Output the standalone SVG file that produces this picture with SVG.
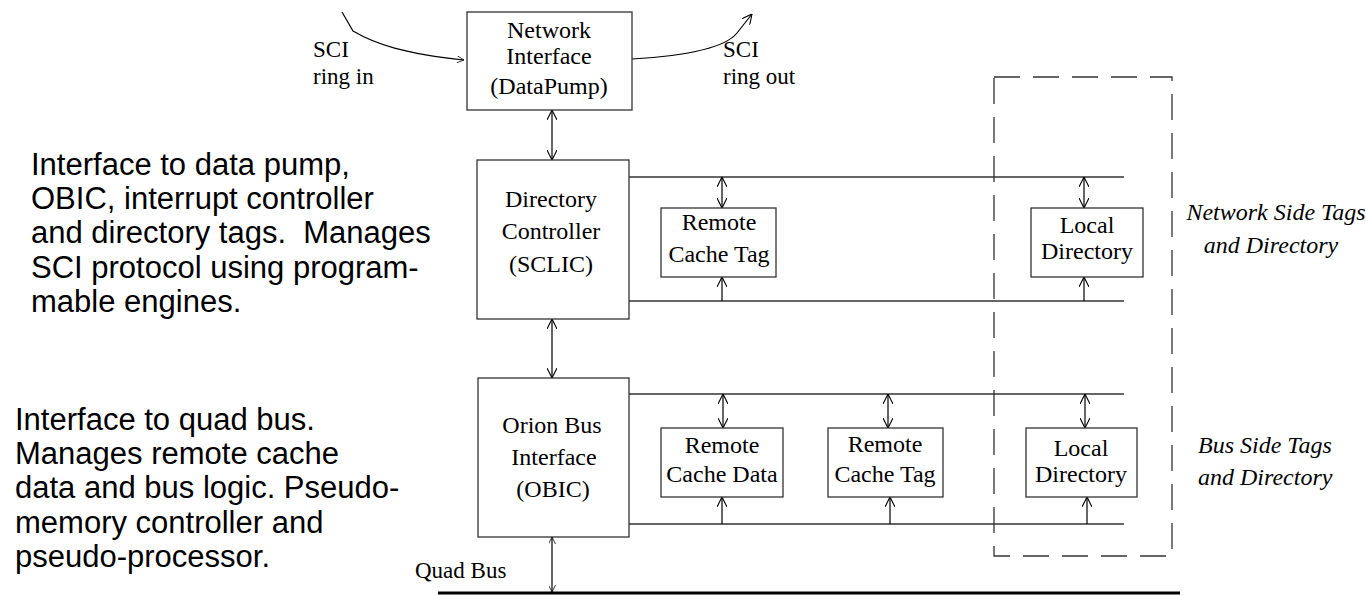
<svg xmlns="http://www.w3.org/2000/svg" width="1366" height="595" viewBox="0 0 1366 595">
<style>
.box{fill:#fff;stroke:#333;stroke-width:1.3}
.lbl{font-family:"Liberation Serif","Times New Roman",serif;font-size:24px;fill:#000;text-anchor:middle}
.lbl2{font-family:"Liberation Serif","Times New Roman",serif;font-size:23px;fill:#000}
.it{font-family:"Liberation Serif","Times New Roman",serif;font-size:24px;font-style:italic;fill:#000}
.note{font-family:"Liberation Sans",Arial,sans-serif;font-size:31px;fill:#000}
.bus{stroke:#333;stroke-width:1.3;fill:none}
.arr{stroke:#000;stroke-width:1.2;fill:none}
.dash{fill:none;stroke:#333;stroke-width:1.3;stroke-dasharray:26 13}
</style>
<defs>
<marker id="ah" viewBox="0 0 10 10" refX="10" refY="5" markerWidth="10" markerHeight="10" markerUnits="userSpaceOnUse" orient="auto-start-reverse">
<path d="M0,0 L10,5 L0,10" fill="none" stroke="#000" stroke-width="1.1"/>
</marker>
<marker id="ahs" viewBox="0 0 10 10" refX="10" refY="5" markerWidth="7" markerHeight="7" markerUnits="userSpaceOnUse" orient="auto-start-reverse">
<path d="M0,0 L10,5 L0,10" fill="none" stroke="#000" stroke-width="1.1"/>
</marker>
</defs>
<rect width="1366" height="595" fill="#fff"/>

<g id="notes">
<text class="note" x="31" y="175">Interface to data pump,</text>
<text class="note" x="31" y="209">OBIC, interrupt controller</text>
<text class="note" x="31" y="243" xml:space="preserve">and directory tags.  Manages</text>
<text class="note" x="31" y="278">SCI protocol using program-</text>
<text class="note" x="31" y="312">mable engines.</text>
<text class="note" x="15" y="430">Interface to quad bus.</text>
<text class="note" x="15" y="464">Manages remote cache</text>
<text class="note" x="15" y="498">data and bus logic. Pseudo-</text>
<text class="note" x="15" y="533">memory controller and</text>
<text class="note" x="15" y="567">pseudo-processor.</text>
</g>

<g id="region-label">
<rect class="dash" x="994" y="77" width="178" height="479"/>
<text class="it" x="1276" y="220" text-anchor="middle">Network Side Tags</text>
<text class="it" x="1271" y="253" text-anchor="middle">and Directory</text>
<text class="it" x="1198" y="453">Bus Side Tags</text>
<text class="it" x="1198" y="485">and Directory</text>
</g>

<g id="connectors">
<path class="arr" d="M342,12 L353,31 C375,44 405,54 464,60" marker-end="url(#ahs)"/>
<path class="arr" d="M632,59 C684,56 725,48 737,33 L752,14" marker-end="url(#ah)"/>
<line class="arr" x1="552" y1="110" x2="552" y2="160" marker-start="url(#ah)" marker-end="url(#ah)"/>
<line class="arr" x1="552" y1="319" x2="552" y2="378" marker-start="url(#ah)" marker-end="url(#ah)"/>
<line class="arr" x1="552" y1="537" x2="552" y2="592" marker-start="url(#ahs)" marker-end="url(#ahs)"/>
<line class="bus" x1="627" y1="177" x2="1124" y2="177"/>
<line class="bus" x1="627" y1="301" x2="1124" y2="301"/>
<line class="bus" x1="627" y1="394" x2="1124" y2="394"/>
<line class="bus" x1="627" y1="524" x2="1124" y2="524"/>
<line class="arr" x1="722" y1="177" x2="722" y2="208" marker-start="url(#ah)" marker-end="url(#ah)"/>
<line class="arr" x1="722" y1="301" x2="722" y2="277" marker-end="url(#ah)"/>
<line class="arr" x1="1084" y1="177" x2="1084" y2="208" marker-start="url(#ah)" marker-end="url(#ah)"/>
<line class="arr" x1="1084" y1="301" x2="1084" y2="277" marker-end="url(#ah)"/>
<line class="arr" x1="723" y1="394" x2="723" y2="428" marker-start="url(#ah)" marker-end="url(#ah)"/>
<line class="arr" x1="722" y1="524" x2="722" y2="497" marker-end="url(#ah)"/>
<line class="arr" x1="888" y1="394" x2="888" y2="428" marker-start="url(#ah)" marker-end="url(#ah)"/>
<line class="arr" x1="890" y1="524" x2="890" y2="497" marker-end="url(#ah)"/>
<line class="arr" x1="1085" y1="394" x2="1085" y2="428" marker-start="url(#ah)" marker-end="url(#ah)"/>
<line class="arr" x1="1087" y1="524" x2="1087" y2="497" marker-end="url(#ah)"/>
<line x1="438" y1="593" x2="1180" y2="593" stroke="#000" stroke-width="3"/>
</g>

<g id="sci-ring-in"><text class="lbl2" x="313" y="57">SCI</text><text class="lbl2" x="313" y="84">ring in</text></g>
<g id="sci-ring-out"><text class="lbl2" x="723" y="57">SCI</text><text class="lbl2" x="723" y="84">ring out</text></g>
<g id="quad-bus"><text class="lbl2" x="415" y="578">Quad Bus</text></g>

<g id="network-interface">
<rect class="box" x="467" y="12" width="165" height="98"/>
<text class="lbl" x="549" y="38">Network</text>
<text class="lbl" x="549" y="64">Interface</text>
<text class="lbl" x="549" y="94">(DataPump)</text>
</g>

<g id="directory-controller">
<rect class="box" x="477" y="160" width="152" height="159"/>
<text class="lbl" x="551" y="207">Directory</text>
<text class="lbl" x="551" y="239">Controller</text>
<text class="lbl" x="551" y="272">(SCLIC)</text>
</g>

<g id="net-remote-cache-tag">
<rect class="box" x="661" y="208" width="115" height="69"/>
<text class="lbl" x="719" y="230">Remote</text>
<text class="lbl" x="719" y="262">Cache Tag</text>
</g>

<g id="net-local-directory">
<rect class="box" x="1031" y="208" width="112" height="69"/>
<text class="lbl" x="1087" y="233">Local</text>
<text class="lbl" x="1087" y="259">Directory</text>
</g>

<g id="obic">
<rect class="box" x="478" y="378" width="151" height="159"/>
<text class="lbl" x="552" y="433">Orion Bus</text>
<text class="lbl" x="554" y="465">Interface</text>
<text class="lbl" x="553" y="497">(OBIC)</text>
</g>

<g id="remote-cache-data">
<rect class="box" x="661" y="428" width="122" height="69"/>
<text class="lbl" x="722" y="453">Remote</text>
<text class="lbl" x="722" y="482">Cache Data</text>
</g>

<g id="bus-remote-cache-tag">
<rect class="box" x="828" y="428" width="115" height="69"/>
<text class="lbl" x="885" y="452">Remote</text>
<text class="lbl" x="885" y="482">Cache Tag</text>
</g>

<g id="bus-local-directory">
<rect class="box" x="1026" y="428" width="111" height="69"/>
<text class="lbl" x="1081" y="456">Local</text>
<text class="lbl" x="1081" y="482">Directory</text>
</g>
</svg>
